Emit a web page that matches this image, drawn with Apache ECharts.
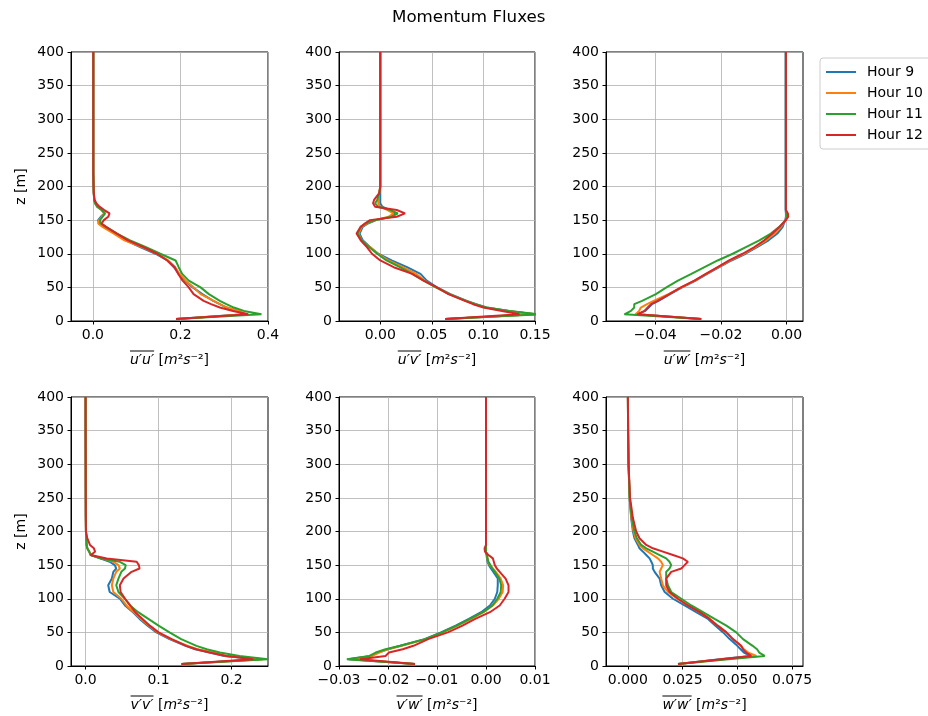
<!DOCTYPE html>
<html>
<head>
<meta charset="utf-8">
<script src="https://cdn.jsdelivr.net/npm/echarts@6/dist/echarts.min.js"></script>
<style>
html,body{margin:0;padding:0;background:#fff;}
#chart{width:928px;height:716px;}
</style>
</head>
<body>
<div id="chart"></div>
<script>
// Heights (m)
const Z = [3,10,15,20,25,30,40,50,60,70,80,90,100,110,120,130,140,145,150,155,160,165,170,175,180,190,200,220,250,300,350,400];
const hours = ['Hour 9','Hour 10','Hour 11','Hour 12'];
const colors = ['#1f77b4','#ff7f0e','#2ca02c','#d62728'];

// u'u'
const uu_h9  = [0.19,0.345,0.33,0.305,0.29,0.275,0.25,0.228,0.21,0.196,0.185,0.17,0.143,0.108,0.075,0.05,0.025,0.014,0.012,0.018,0.026,0.02,0.01,0.005,0.003,0.002,0.0015,0.001,0.001,0.001,0.001,0.001];
const uu_h10 = [0.19,0.35,0.335,0.307,0.29,0.276,0.246,0.23,0.212,0.198,0.188,0.172,0.147,0.112,0.072,0.048,0.022,0.012,0.014,0.02,0.027,0.02,0.01,0.005,0.003,0.002,0.0015,0.001,0.001,0.001,0.001,0.001];
const uu_h11 = [0.19,0.385,0.345,0.322,0.305,0.29,0.265,0.246,0.219,0.204,0.196,0.189,0.154,0.12,0.085,0.055,0.03,0.018,0.016,0.022,0.028,0.02,0.01,0.005,0.003,0.002,0.0015,0.001,0.001,0.001,0.001,0.001];
const uu_h12 = [0.19,0.355,0.32,0.29,0.27,0.253,0.23,0.219,0.205,0.195,0.187,0.17,0.147,0.115,0.08,0.055,0.03,0.02,0.025,0.035,0.038,0.026,0.015,0.008,0.004,0.002,0.0015,0.001,0.001,0.001,0.001,0.001];

// u'v'
const uv_h9  = [0.063,0.15,0.125,0.103,0.093,0.084,0.068,0.055,0.045,0.039,0.026,0.011,-0.002,-0.01,-0.017,-0.02,-0.017,-0.012,-0.004,0.01,0.0145,0.009,0.002,0,0,0,0,0,0,0,0,0];
const uv_h10 = [0.063,0.15,0.123,0.102,0.092,0.083,0.067,0.054,0.043,0.035,0.022,0.008,-0.002,-0.01,-0.018,-0.021,-0.018,-0.013,-0.005,0.008,0.013,0.007,0,-0.002,-0.002,-0.001,0,0,0,0,0,0];
const uv_h11 = [0.063,0.153,0.125,0.103,0.092,0.083,0.067,0.054,0.042,0.031,0.019,0.006,-0.003,-0.011,-0.018,-0.022,-0.019,-0.014,-0.005,0.011,0.017,0.01,-0.002,-0.005,-0.003,-0.001,0,0,0,0,0,0];
const uv_h12 = [0.063,0.135,0.118,0.1,0.09,0.082,0.066,0.055,0.042,0.031,0.013,0,-0.008,-0.013,-0.019,-0.023,-0.019,-0.015,-0.01,0.016,0.024,0.016,-0.005,-0.007,-0.006,-0.001,0,0,0,0,0,0];

// u'w'
const uw_h9  = [-0.026,-0.0455,-0.043,-0.042,-0.041,-0.039,-0.0355,-0.0318,-0.0277,-0.0242,-0.0205,-0.0168,-0.0125,-0.009,-0.0055,-0.0028,-0.0012,-0.0008,-0.0004,-0.0002,-0.0002,-0.0003,-0.0003,-0.0003,-0.0003,-0.0003,-0.0003,-0.0003,-0.0003,-0.0003,-0.0003,-0.0003];
const uw_h10 = [-0.026,-0.046,-0.0449,-0.0444,-0.0425,-0.0405,-0.036,-0.032,-0.028,-0.0245,-0.0208,-0.0172,-0.013,-0.0094,-0.0062,-0.0036,-0.0017,-0.001,-0.0003,0,0,-0.0002,-0.0002,-0.0002,-0.0002,-0.0002,-0.0002,-0.0002,-0.0002,-0.0002,-0.0002,-0.0002];
const uw_h11 = [-0.026,-0.0494,-0.0474,-0.0464,-0.0464,-0.044,-0.0398,-0.0366,-0.0331,-0.029,-0.025,-0.021,-0.0164,-0.0124,-0.0083,-0.0048,-0.0022,-0.0012,-0.0003,0.0002,0,-0.0002,-0.0002,-0.0002,-0.0002,-0.0002,-0.0002,-0.0002,-0.0002,-0.0002,-0.0002,-0.0002];
const uw_h12 = [-0.026,-0.0454,-0.0433,-0.0423,-0.0413,-0.0393,-0.0357,-0.0322,-0.0281,-0.0246,-0.021,-0.0175,-0.0134,-0.0098,-0.0068,-0.0043,-0.0022,-0.0012,-0.0002,0.0005,0.0004,-0.0002,-0.0002,-0.0002,-0.0002,-0.0002,-0.0002,-0.0002,-0.0002,-0.0002,-0.0002,-0.0002];

// v'v'
const vv_h9  = [0.1315,0.238,0.19,0.17,0.15,0.137,0.115,0.097,0.085,0.074,0.065,0.054,0.047,0.033,0.031,0.036,0.038,0.042,0.04,0.033,0.02,0.007,0.005,0.0023,0.0014,0.001,0.0005,0.0003,0.0002,0.0001,0,0];
const vv_h10 = [0.1315,0.243,0.193,0.175,0.153,0.14,0.117,0.099,0.087,0.076,0.066,0.056,0.049,0.038,0.036,0.038,0.042,0.047,0.045,0.038,0.022,0.007,0.005,0.0023,0.0014,0.001,0.0005,0.0003,0.0002,0.0001,0,0];
const vv_h11 = [0.1315,0.25,0.211,0.184,0.166,0.152,0.131,0.115,0.1,0.086,0.072,0.061,0.054,0.045,0.042,0.045,0.049,0.054,0.055,0.047,0.02,0.007,0.005,0.0023,0.0014,0.001,0.0005,0.0003,0.0002,0.0001,0,0];
const vv_h12 = [0.1315,0.23,0.193,0.17,0.152,0.138,0.118,0.1,0.088,0.078,0.068,0.061,0.054,0.048,0.047,0.052,0.063,0.074,0.073,0.07,0.029,0.007,0.013,0.0114,0.006,0.0023,0.0005,0.0003,0.0002,0.0001,0,0];

// v'w'
const vw_h9  = [-0.0145,-0.028,-0.0235,-0.022,-0.02,-0.0175,-0.0125,-0.0092,-0.0062,-0.0035,-0.001,0.0008,0.0018,0.0023,0.0024,0.0024,0.0015,0.001,0.0006,0.0003,0.0002,0.0001,0,0,0,0,0,0,0,0,0,0];
const vw_h10 = [-0.0145,-0.0275,-0.0232,-0.0218,-0.02,-0.0172,-0.0122,-0.0088,-0.0058,-0.003,-0.0005,0.0014,0.0026,0.0034,0.0035,0.003,0.002,0.0014,0.0008,0.0004,0.0003,0.0002,0,0,0,0,0,0,0,0,0,0];
const vw_h11 = [-0.0145,-0.0284,-0.0238,-0.0225,-0.0205,-0.0175,-0.0125,-0.009,-0.006,-0.0033,-0.0006,0.0013,0.0023,0.003,0.0031,0.0027,0.0018,0.0013,0.0009,0.0005,0.0003,0.0002,0,0,0,0,0,0,0,0,0,0];
const vw_h12 = [-0.0145,-0.0257,-0.0205,-0.0198,-0.017,-0.0148,-0.0118,-0.0078,-0.0048,-0.0022,0.0008,0.0028,0.0038,0.0046,0.0046,0.004,0.0028,0.0022,0.0018,0.0016,0.0014,0.0005,-0.0002,-0.0003,0,0,0,0,0,0,0,0];

// w'w'
const ww_h9  = [0.0229,0.042,0.056,0.053,0.0515,0.05,0.0465,0.0435,0.04,0.0366,0.0312,0.0259,0.0206,0.0168,0.0152,0.0145,0.0122,0.0114,0.0114,0.0107,0.0099,0.0084,0.0069,0.0053,0.0046,0.003,0.0023,0.0015,0.0008,0.0003,0.0001,0];
const ww_h10 = [0.0229,0.0436,0.0587,0.055,0.053,0.0515,0.048,0.045,0.041,0.0375,0.0328,0.0275,0.0225,0.0183,0.016,0.0152,0.0145,0.0152,0.016,0.0152,0.0137,0.0114,0.0091,0.0069,0.0053,0.0035,0.0026,0.0016,0.0008,0.0003,0.0001,0];
const ww_h11 = [0.0229,0.046,0.0625,0.06,0.059,0.057,0.0526,0.0495,0.045,0.0396,0.0343,0.029,0.0244,0.0198,0.0183,0.0175,0.0175,0.019,0.0198,0.019,0.0175,0.0145,0.0114,0.0084,0.0061,0.0041,0.003,0.0018,0.0008,0.0003,0.0001,0];
const ww_h12 = [0.0229,0.0425,0.0564,0.054,0.0526,0.0518,0.048,0.045,0.041,0.0373,0.0328,0.0274,0.0229,0.019,0.0175,0.0175,0.0198,0.0244,0.0259,0.0274,0.0251,0.0206,0.016,0.0114,0.0084,0.0053,0.0038,0.0023,0.001,0.0003,0.0001,0];

// Tick values per panel
const yTicks = [0,50,100,150,200,250,300,350,400];
const uuTicks = [0.0,0.2,0.4];
const uvTicks = [0.00,0.05,0.10,0.15];
const uwTicks = [-0.04,-0.02,0.00];
const vvTicks = [0.0,0.1,0.2];
const vwTicks = [-0.03,-0.02,-0.01,0.00,0.01];
const wwTicks = [0.000,0.025,0.050,0.075];

const panelLabels = ['u′u′','u′v′','u′w′','v′v′','v′w′','w′w′'];
const unitParts = [[' [', 'n'], ['m', 'i'], ['²', 'n'], ['s', 'i'], ['⁻²]', 'n']];

const panels = [
  {data:[uu_h9,uu_h10,uu_h11,uu_h12], ticks:uuTicks, dec:1, min:-0.05, max:0.4},
  {data:[uv_h9,uv_h10,uv_h11,uv_h12], ticks:uvTicks, dec:2, min:-0.04, max:0.15},
  {data:[uw_h9,uw_h10,uw_h11,uw_h12], ticks:uwTicks, dec:2, min:-0.055, max:0.005},
  {data:[vv_h9,vv_h10,vv_h11,vv_h12], ticks:vvTicks, dec:1, min:-0.02, max:0.25},
  {data:[vw_h9,vw_h10,vw_h11,vw_h12], ticks:vwTicks, dec:2, min:-0.03, max:0.01},
  {data:[ww_h9,ww_h10,ww_h11,ww_h12], ticks:wwTicks, dec:3, min:-0.01, max:0.08}
];

const lefts = [71, 339, 606];
const widths = [197, 196, 197];
const tops = [52, 397];
const H = 269;
const FONT = 'DejaVu Sans';
const FS = 14;

// text measurement for the overline bar
const mctx = document.createElement('canvas').getContext('2d');
function tw(s, italic){
  mctx.font = (italic ? 'italic ' : '') + FS + 'px "' + FONT + '"';
  return mctx.measureText(s).width;
}
const unitWidth = unitParts.reduce((a, p) => a + tw(p[0], p[1] === 'i'), 0);
const unitText = unitParts.map(p => '{' + p[1] + '|' + p[0] + '}').join('');

const grids = [], xAxes = [], yAxes = [], series = [];
panels.forEach((p, i) => {
  const row = Math.floor(i / 3), col = i % 3;
  const lab = panelLabels[i];
  const barW = tw(lab, true);
  grids.push({left: lefts[col], top: tops[row], width: widths[col], height: H,
    show: true, borderColor: '#000', borderWidth: 1, backgroundColor: 'transparent'});
  xAxes.push({
    type: 'value', gridIndex: i, min: p.min, max: p.max,
    name: '{bar| }{sp| }\n{o|' + lab + '}' + unitText,
    nameLocation: 'middle', nameGap: 38,
    nameTextStyle: {verticalAlign: 'middle', align: 'center', rich: {
      bar: {width: barW, height: 1, lineHeight: 2, backgroundColor: '#000', color: 'transparent', fontSize: 1},
      sp: {width: unitWidth, height: 1, lineHeight: 2, color: 'transparent', fontSize: 1},
      o: {fontFamily: FONT, fontStyle: 'italic', fontSize: FS, lineHeight: 16, color: '#000'},
      n: {fontFamily: FONT, fontSize: FS, lineHeight: 16, color: '#000'},
      i: {fontFamily: FONT, fontStyle: 'italic', fontSize: FS, lineHeight: 16, color: '#000'}
    }},
    axisLine: {show: true, onZero: false, lineStyle: {color: '#000', width: 1}},
    axisTick: {show: true, length: 3.5, lineStyle: {color: '#000'}, customValues: p.ticks},
    axisLabel: {customValues: p.ticks, color: '#000', fontFamily: FONT, fontSize: FS, margin: 7,
      formatter: v => v.toFixed(p.dec).replace('-', '\u2212')},
    splitLine: {show: true, lineStyle: {color: '#b0b0b0', width: 0.8}}
  });
  yAxes.push({
    type: 'value', gridIndex: i, min: 0, max: 400, interval: 50,
    name: col === 0 ? 'z [m]' : '',
    nameLocation: 'middle', nameGap: 43,
    nameTextStyle: {fontFamily: FONT, fontSize: FS, color: '#000'},
    axisLine: {show: true, onZero: false, lineStyle: {color: '#000', width: 1}},
    axisTick: {show: true, length: 3.5, lineStyle: {color: '#000'}},
    axisLabel: {color: '#000', fontFamily: FONT, fontSize: FS, margin: 7},
    splitLine: {show: true, lineStyle: {color: '#b0b0b0', width: 0.8}}
  });
  p.data.forEach((arr, k) => {
    series.push({
      type: 'line', name: hours[k], xAxisIndex: i, yAxisIndex: i,
      data: arr.map((x, j) => [x, Z[j]]),
      showSymbol: false, symbol: 'none', color: colors[k],
      lineStyle: {color: colors[k], width: 2},
      clip: true, animation: false, z: 3 + k
    });
  });
});

const chart = echarts.init(document.getElementById('chart'), null, {renderer: 'canvas'});
chart.setOption({
  backgroundColor: '#fff',
  animation: false,
  title: {text: 'Momentum Fluxes', left: 392, top: 9, padding: 0,
    textStyle: {fontFamily: FONT, fontSize: 16.7, fontWeight: 'normal', color: '#000'}},
  legend: {
    data: hours, orient: 'vertical', left: 820, top: 58,
    icon: 'rect', itemWidth: 30, itemHeight: 2, itemGap: 5,
    padding: [6, 8, 6, 6],
    borderColor: '#cccccc', borderWidth: 1, borderRadius: 3, backgroundColor: '#fff',
    textStyle: {fontFamily: FONT, fontSize: FS, color: '#000', lineHeight: 16, padding: [0, 0, 0, 6]}
  },
  grid: grids, xAxis: xAxes, yAxis: yAxes, series: series
});
</script>
</body>
</html>
